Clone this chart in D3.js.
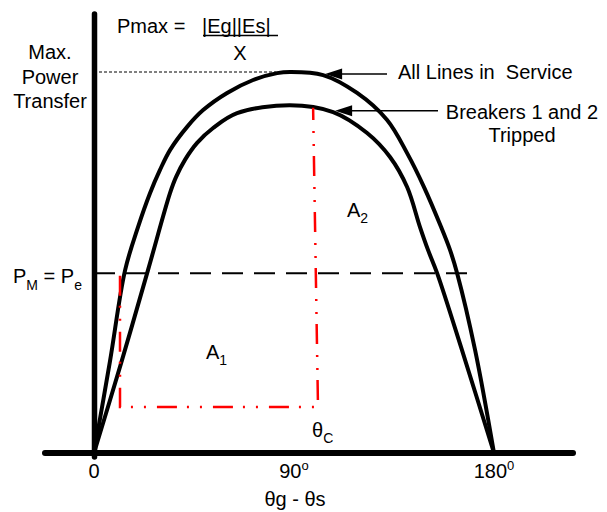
<!DOCTYPE html>
<html>
<head>
<meta charset="utf-8">
<script src="https://cdn.jsdelivr.net/npm/d3@7"></script>
<style>
  body { margin: 0; background: #fff; }
  text { font-family: "Liberation Sans", Arial, sans-serif; font-size: 20px; fill: #000; }
</style>
</head>
<body>
<svg id="chart"></svg>
<script>
// power-angle curves: angle (deg) and power (per unit of Pmax, all lines in service)
let allLinesDeg = [0, 7.2, 14, 19.8, 25.2, 29.7, 34.2, 41.9, 49.1, 59.9, 71.6, 82.4, 88.2, 103.1, 118.4, 131.9, 140.9, 148.5, 156.2, 160.2, 163.4, 171.5, 180];
let allLinesP   = [0, 0.241, 0.48, 0.593, 0.682, 0.743, 0.795, 0.856, 0.9, 0.945, 0.979, 0.997, 1.0, 0.992, 0.945, 0.874, 0.787, 0.698, 0.593, 0.533, 0.472, 0.27, 0];

let trippedDeg = [0, 12.2, 24.3, 34.2, 36.9, 41.0, 46.4, 53.6, 64.4, 88.2, 107.6, 122.9, 133.2, 140.9, 146.7, 150.3, 154.4, 165.6, 180];
let trippedP   = [0, 0.236, 0.48, 0.682, 0.724, 0.77, 0.814, 0.853, 0.892, 0.913, 0.895, 0.84, 0.777, 0.698, 0.593, 0.533, 0.472, 0.27, 0];

// mechanical power level and the equal-area path (red)
let pm = 0.472;
let areaPathDeg = [11.7, 11.7, 100.8, 98.6];
let areaPathP   = [0.465, 0.121, 0.121, 0.906];
let pmaxLineEnd = 82;

// x ticks
let tickValues = [0, 90, 180];
let tickLabels = ["0", "90", "180"];
let tickSups   = ["", "o", "0"];

// arrow tips on the curves [deg, p]
let arrowAllTip = [104, 0.995];
let arrowTripTip = [108.5, 0.898];

let width = 607;
let height = 512;

let svg = d3.select('#chart').attr('width', width).attr('height', height);

let x = d3.scaleLinear().domain([0, 180]).range([94, 494]);
let y = d3.scaleLinear().domain([0, 1]).range([453, 72]);

let line = d3.line()
  .x(d => x(d[0]))
  .y(d => y(d[1]))
  .curve(d3.curveCatmullRom.alpha(0.5));

let zip = (a, b) => a.map((v, i) => [v, b[i]]);

// dotted Pmax guide
svg.append('line')
  .attr('x1', x(0)).attr('x2', x(pmaxLineEnd))
  .attr('y1', y(1)).attr('y2', y(1))
  .attr('stroke', '#000').attr('stroke-width', 1)
  .attr('stroke-dasharray', '3,2');

// Pm = Pe dashed line
svg.append('line')
  .attr('x1', x(0)).attr('x2', 478)
  .attr('y1', y(pm)).attr('y2', y(pm))
  .attr('stroke', '#000').attr('stroke-width', 2)
  .attr('stroke-dasharray', '21,11');

// curves
svg.append('path')
  .attr('d', line(zip(allLinesDeg, allLinesP)))
  .attr('fill', 'none').attr('stroke', '#000').attr('stroke-width', 4);

svg.append('path')
  .attr('d', line(zip(trippedDeg, trippedP)))
  .attr('fill', 'none').attr('stroke', '#000').attr('stroke-width', 4);

// red dash-dot-dot path
svg.append('path')
  .attr('d', d3.line().x(d => x(d[0])).y(d => y(d[1]))(zip(areaPathDeg, areaPathP)))
  .attr('fill', 'none').attr('stroke', '#ff0000').attr('stroke-width', 2.5)
  .attr('stroke-dasharray', '20,10,2,11,2,11');

// axes
svg.append('line')
  .attr('x1', 45).attr('x2', 573)
  .attr('y1', y(0)).attr('y2', y(0))
  .attr('stroke', '#000').attr('stroke-width', 6).attr('stroke-linecap', 'round');

svg.append('line')
  .attr('x1', x(0) + 0.5).attr('x2', x(0) + 0.5)
  .attr('y1', 14).attr('y2', 457)
  .attr('stroke', '#000').attr('stroke-width', 5.5).attr('stroke-linecap', 'round');

// tick labels
let ticks = svg.append('g');
tickValues.forEach((v, i) => {
  let t = ticks.append('text')
    .attr('x', x(v)).attr('y', 478)
    .attr('text-anchor', 'middle');
  t.append('tspan').text(tickLabels[i]);
  if (tickSups[i]) {
    t.append('tspan').attr('dy', -8).style('font-size', '13px').text(tickSups[i]);
  }
});

svg.append('text').attr('x', 295).attr('y', 506).attr('text-anchor', 'middle').text('θg - θs');

// left label
['Max.', 'Power', 'Transfer'].forEach((s, i) => {
  svg.append('text').attr('x', 50).attr('y', 59 + i * 24.5)
    .attr('text-anchor', 'middle').text(s);
});

// Pmax formula
svg.append('text').attr('x', 117).attr('y', 33).text('Pmax =');
svg.append('text').attr('x', 202).attr('y', 33).text('|Eg||Es|');
svg.append('line').attr('x1', 203).attr('x2', 278).attr('y1', 35.5).attr('y2', 35.5)
  .attr('stroke', '#000').attr('stroke-width', 1.3);
svg.append('text').attr('x', 240).attr('y', 60).attr('text-anchor', 'middle').text('X');

// arrows with labels
let arrow = (tip, tailX) => {
  let tx = x(tip[0]), ty = y(tip[1]);
  svg.append('line')
    .attr('x1', tx + 10).attr('x2', tailX)
    .attr('y1', ty).attr('y2', ty)
    .attr('stroke', '#000').attr('stroke-width', 1.5);
  svg.append('polygon')
    .attr('points', [[tx, ty], [tx + 17, ty - 5.5], [tx + 17, ty + 5.5]].map(p => p.join(',')).join(' '))
    .attr('fill', '#000');
};
arrow(arrowAllTip, 387);
arrow(arrowTripTip, 438);

svg.append('text').attr('x', 398).attr('y', 79).attr('xml:space', 'preserve').text('All Lines in  Service');
svg.append('text').attr('x', 522).attr('y', 119).attr('text-anchor', 'middle').text('Breakers 1 and 2');
svg.append('text').attr('x', 522).attr('y', 142).attr('text-anchor', 'middle').text('Tripped');

// Pm = Pe label
let pmLabel = svg.append('text').attr('x', 13).attr('y', 283);
pmLabel.append('tspan').text('P');
pmLabel.append('tspan').attr('dy', 7).style('font-size', '14px').text('M');
pmLabel.append('tspan').attr('dy', -7).text(' = P');
pmLabel.append('tspan').attr('dy', 7).style('font-size', '14px').text('e');

// area labels
let sub = (px, py, main, s) => {
  let t = svg.append('text').attr('x', px).attr('y', py);
  t.append('tspan').text(main);
  t.append('tspan').attr('dy', 6).style('font-size', '14px').text(s);
};
sub(206, 359, 'A', '1');
sub(347, 217, 'A', '2');
sub(312, 437, 'θ', 'C');
</script>
</body>
</html>
